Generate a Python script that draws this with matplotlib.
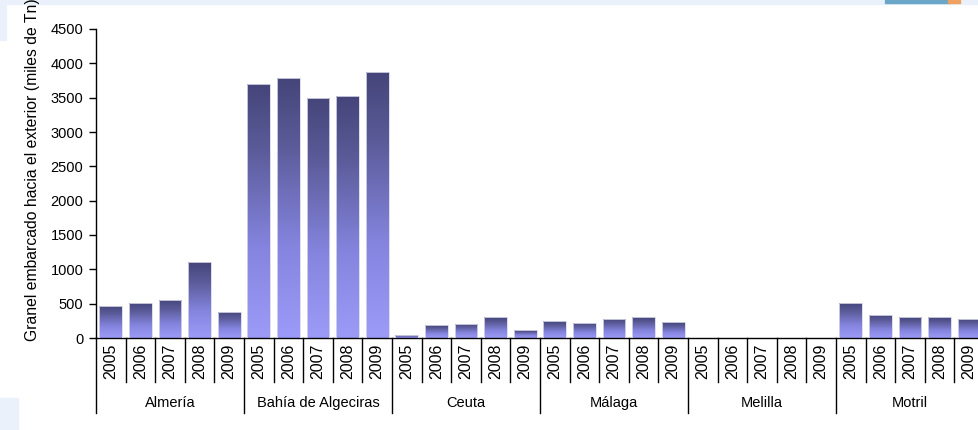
import matplotlib
matplotlib.use("Agg")
import matplotlib.pyplot as plt
import numpy as np
from matplotlib.patches import Rectangle
import matplotlib.transforms as mtransforms

plt.rcParams['font.family'] = ['Liberation Sans', 'DejaVu Sans']

ports = ["Almería", "Bahía de Algeciras", "Ceuta", "Málaga", "Melilla", "Motril"]
years = ["2005", "2006", "2007", "2008", "2009"]
almeria = [470, 510, 555, 1100, 385]
algeciras = [3700, 3780, 3500, 3520, 3870]
ceuta = [40, 185, 205, 300, 110]
malaga = [243, 223, 277, 300, 228]
melilla = [0, 0, 0, 0, 0]
motril = [510, 340, 300, 300, 278]
series = [almeria, algeciras, ceuta, malaga, melilla, motril]
yticks = list(range(0, 4501, 500))

W, H = 979, 430
fig = plt.figure(figsize=(W / 100, H / 100), dpi=100)
fig.patch.set_facecolor("white")

# pale decorative frame pieces
pale = "#eaf1fa"
fig.patches.append(Rectangle((0, 1 - 4 / H), 1, 4 / H, transform=fig.transFigure, color=pale, zorder=0))
fig.patches.append(Rectangle((0, 1 - 40 / H), 6 / W, 40 / H, transform=fig.transFigure, color=pale, zorder=0))
fig.patches.append(Rectangle((0, 0), 18 / W, 32 / H, transform=fig.transFigure, color=pale, zorder=0))
fig.patches.append(Rectangle((885 / W, 1 - 3 / H), 65 / W, 3 / H, transform=fig.transFigure, color="#6aa6c8", zorder=0))
fig.patches.append(Rectangle((948 / W, 1 - 3 / H), 12 / W, 3 / H, transform=fig.transFigure, color="#f0a060", zorder=0))

left_px, right_px, top_px, bot_px = 96, 984, 29, 338
ax = fig.add_axes([left_px / W, 1 - bot_px / H, (right_px - left_px) / W, (bot_px - top_px) / H])
ax.set_facecolor("none")

n_years = len(years)
values = [v for s in series for v in s]
xpos = np.arange(len(values)) + 0.5
bw = 0.77
bars = ax.bar(xpos, values, width=bw, color="none", edgecolor="#d8d8e8", linewidth=0.6, zorder=3)

# vertical gradient per bar: light at bottom, dark at top
cmap = matplotlib.colors.LinearSegmentedColormap.from_list(
    "g", [(0.0, "#9c9cf8"), (0.35, "#8585e0"), (0.75, "#5a5a98"), (1.0, "#45457a")])
grad = np.linspace(0, 1, 256).reshape(-1, 1)
for b in bars:
    h = b.get_height()
    if h <= 0:
        continue
    x0 = b.get_x()
    im = ax.imshow(grad, cmap=cmap, origin="lower", aspect="auto",
                   extent=[x0, x0 + b.get_width(), 0, h], zorder=2, interpolation="bilinear")
    im.set_clip_path(b)

ax.set_xlim(0, len(values))
ax.set_ylim(0, 4500)
ax.set_yticks(yticks)
ax.set_yticklabels([str(t) for t in yticks], fontsize=10.5)
ax.tick_params(axis="y", direction="out", length=5, width=1, pad=4, colors="black")
ax.set_xticks([])
for s in ["top", "right"]:
    ax.spines[s].set_visible(False)
ax.spines["left"].set_linewidth(1)
ax.spines["bottom"].set_linewidth(1)

trans = mtransforms.blended_transform_factory(ax.transData, ax.transAxes)
ax_h = bot_px - top_px
year_line = -(382 - bot_px) / ax_h
group_line = -(413 - bot_px) / ax_h
for k in range(len(values) + 1):
    y_end = group_line if k % n_years == 0 else year_line
    ax.plot([k, k], [0, y_end], color="black", lw=1, transform=trans, clip_on=False)

for i, v in enumerate(values):
    ax.text(i + 0.5, -(361 - bot_px) / ax_h, years[i % n_years], rotation=90,
            ha="center", va="center", fontsize=11.5, transform=trans)

for g, name in enumerate(ports):
    ax.text(g * n_years + n_years / 2, -(403 - bot_px) / ax_h, name, ha="center", va="center",
            fontsize=10.5, transform=trans)

fig.text(33 / W, 1 - 341 / H, "Granel embarcado hacia el exterior (miles de Tn)", rotation=90,
         ha="center", va="bottom", fontsize=11.3)

fig.savefig("out.png", dpi=100, facecolor=fig.get_facecolor())
